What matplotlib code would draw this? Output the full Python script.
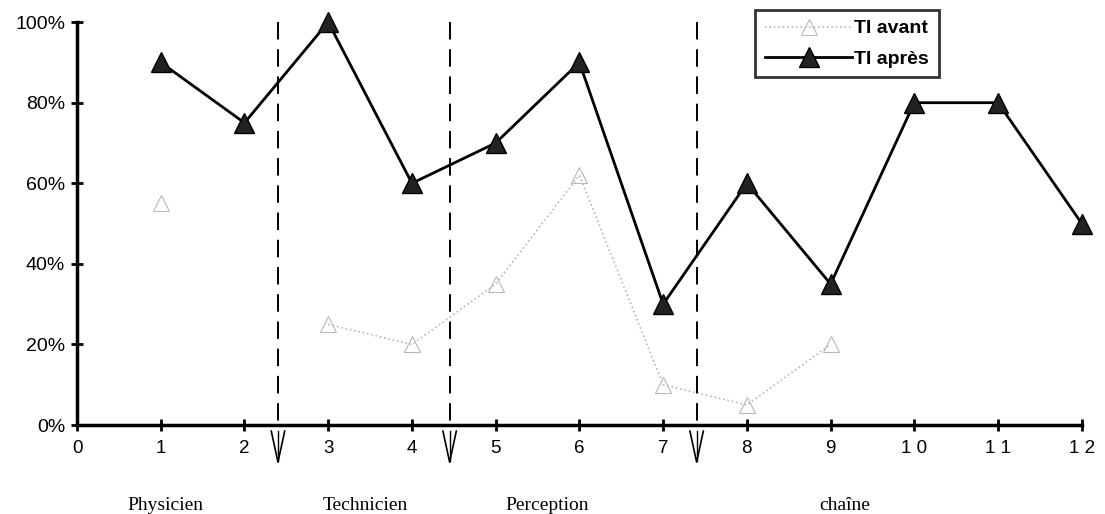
import matplotlib.pyplot as plt
import matplotlib.transforms as mtransforms
import numpy as np

# Data
x = np.arange(1, 13)
ti_avant = np.array([55, np.nan, 25, 20, 35, 62, 10, 5, 20, np.nan, np.nan, np.nan])
ti_apres = np.array([90, 75, 100, 60, 70, 90, 30, 60, 35, 80, 80, 50])
xtick_labels = ['0', '1', '2', '3', '4', '5', '6', '7', '8', '9', '1 0', '1 1', '1 2']
separators = [2.4, 4.45, 7.4]
groups = ['Physicien', 'Technicien', 'Perception', 'chaîne']
group_pos = [1.05, 3.44, 5.62, 9.17]

plt.rcParams['font.family'] = ['Liberation Sans', 'DejaVu Sans']

fig = plt.figure(figsize=(11.05, 5.14), dpi=100)
ax = fig.add_axes([0.0697, 0.173, 0.9093, 0.784])

ax.plot(x, ti_avant, linestyle=':', color='#b8b8b8', lw=1.2, marker='^',
        markersize=11, markerfacecolor='none', markeredgecolor='#b8b8b8',
        markeredgewidth=0.8, label='TI avant', clip_on=False)
ax.plot(x, ti_apres, '-', color='black', lw=2, marker='^', markersize=14,
        markerfacecolor='#222222', markeredgecolor='black', label='TI après',
        clip_on=False, zorder=5)

trans = mtransforms.blended_transform_factory(ax.transData, ax.transAxes)
for s in separators:
    ax.plot([s, s], [1.0, -0.01], '--', color='black', lw=1.4,
            dashes=(9, 5), transform=trans, clip_on=False)
    ax.plot([s - 0.08, s, s + 0.08], [-0.015, -0.092, -0.015], color='black',
            lw=1.2, transform=trans, clip_on=False)
    ax.plot([s, s], [-0.015, -0.09], color='black', lw=1, transform=trans,
            clip_on=False)

for name, p in zip(groups, group_pos):
    ax.text(p, -0.2, name, transform=trans, ha='center', va='center',
            family=['Liberation Serif', 'DejaVu Serif'], fontsize=14)

ax.set_xlim(0, 12)
ax.set_ylim(0, 100)
ax.set_xticks(np.arange(0, 13))
ax.set_xticklabels(xtick_labels, fontsize=13.5)
ax.set_yticks(np.arange(0, 101, 20))
ax.set_yticklabels([f'{v}%' for v in range(0, 101, 20)], fontsize=14)
ax.tick_params(axis='both', direction='inout', length=9, width=2)
ax.tick_params(axis='x', pad=6)
ax.tick_params(axis='y', pad=4)

for side in ['top', 'right']:
    ax.spines[side].set_visible(False)
for side in ['left', 'bottom']:
    ax.spines[side].set_linewidth(2.5)

leg = ax.legend(loc='upper left', bbox_to_anchor=(0.675, 1.03), frameon=True,
                fancybox=False, edgecolor='black', handlelength=4.5,
                handletextpad=0.1, borderpad=0.5, labelspacing=0.65,
                borderaxespad=0, prop={'weight': 'bold', 'size': 14})
leg.get_frame().set_linewidth(2)

plt.savefig('out.png', dpi=100)
